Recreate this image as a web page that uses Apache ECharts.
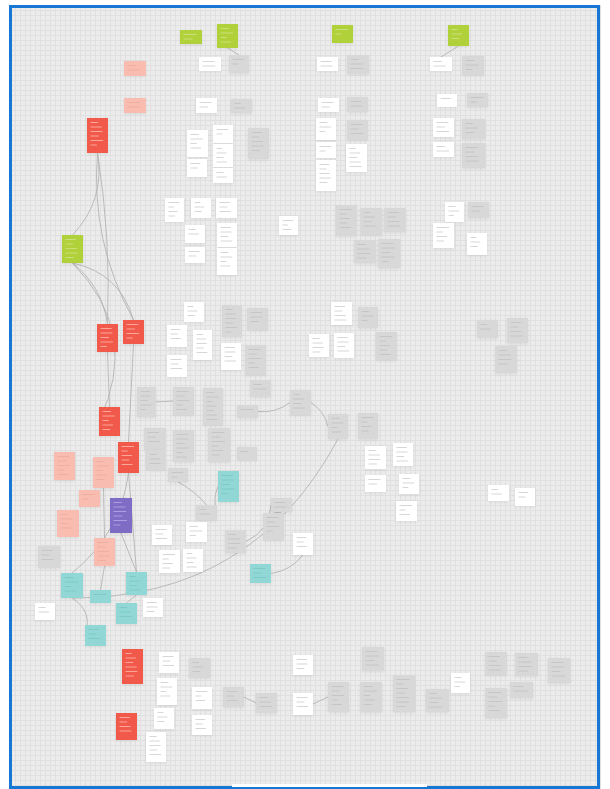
<!DOCTYPE html>
<html><head><meta charset="utf-8">
<script src="https://cdn.jsdelivr.net/npm/echarts@6/dist/echarts.min.js"></script>
<style>html,body{margin:0;padding:0;background:#fff}#c{width:610px;height:789px}</style>
</head><body><div id="c"></div>
<script>
// Sticky notes: id, left, top, width, height (board units), kind
const noteIds = ['g1','g2','g3','g4','g5',
 'p1','p2','p3','p4','p5','p6','p7',
 'r1','r2','r3','r4','r5','r6','r7',
 'u1',
 't1','t2','t3','t4','t5','t6','t7',
 'w1','w2','w3','w4','w5','w6','w7','w8','w9','w10','w11','w12','w13','w14','w15','w16','w17','w18','w19','w20',
 'w21','w22','w23','w24','w25','w26','w27','w28','w29','w30','w31','w32','w33','w34','w35','w36','w37','w38','w39','w40',
 'w41','w42','w43','w44','w45','w46','w47','w48','w49','w50','w51','w52','w53','w54','w55','w56','w57','w58','w59',
 'k1','k2','k3','k4','k5','k6','k7','k8','k9','k10','k11','k12','k13','k14','k15','k16','k17','k18','k19','k20',
 'k21','k22','k23','k24','k25','k26','k27','k28','k29','k30','k31','k32','k33','k34','k35','k36','k37','k38','k39','k40',
 'k41','k42','k43','k44','k45','k46','k47','k48','k49','k50','k51','k52','k53','k54','k55','k56'];
const noteX = [180,217,332,448,62,
 124,124,54,93,79,57,94,
 87,97,123,99,118,122,116,
 110,
 218,250,61,90,126,85,116,
 199,196,187,213,213,187,213,317,318,316,316,346,316,430,437,433,433,165,191,216,
 185,217,185,217,279,184,167,193,221,167,445,433,467,331,309,334,152,186,159,183,
 293,365,393,365,399,396,488,515,35,143,159,157,192,154,192,146,293,293,451,
 229,231,248,347,347,347,462,467,462,462,222,247,245,250,336,360,384,354,378,468,
 358,376,477,507,495,137,173,203,237,290,144,146,173,208,237,168,196,38,225,271,
 263,328,358,189,223,256,362,328,360,393,426,485,515,548,485,510];
const noteY = [30,24,25,25,235,
 61,98,452,457,490,510,538,
 118,324,320,407,442,649,713,
 498,
 471,564,573,590,572,625,603,
 57,98,130,125,144,159,168,57,98,118,142,144,160,57,94,118,142,198,198,198,
 225,223,247,248,216,302,325,330,343,355,202,223,233,302,334,333,525,522,550,549,
 533,446,443,475,474,501,485,488,603,598,652,678,687,708,715,732,655,693,673,
 55,99,128,55,97,120,56,93,119,143,305,308,345,380,205,208,208,240,239,202,
 307,332,320,318,346,387,387,388,405,390,428,450,430,428,447,468,505,546,530,498,
 513,414,413,658,687,693,647,682,682,675,689,652,653,658,688,682];
const noteW = [22,21,21,21,21,
 22,22,21,21,21,22,21,
 21,21,21,21,21,21,21,
 22,
 21,21,22,21,21,21,21,
 22,21,21,20,20,20,20,21,21,20,20,21,20,22,20,21,21,19,20,21,
 20,20,20,20,19,20,20,19,20,20,19,21,20,21,20,20,20,21,21,20,
 20,21,20,21,20,21,21,20,20,20,20,20,20,20,20,20,20,20,19,
 20,21,21,22,21,21,22,21,23,23,20,21,21,21,21,22,22,22,22,21,
 20,21,21,21,22,19,21,20,21,21,22,20,21,22,20,20,21,22,21,21,
 21,20,20,21,21,21,22,21,22,22,23,22,23,22,22,23];
const noteH = [14,24,18,21,28,
 15,15,28,31,17,27,28,
 35,28,24,29,31,35,27,
 35,
 31,19,25,13,23,21,21,
 14,15,27,18,23,18,15,14,14,22,16,28,31,14,13,19,15,24,20,20,
 18,24,16,27,19,20,22,30,27,22,20,25,22,23,23,25,20,20,23,23,
 22,23,23,17,20,20,16,18,17,19,21,27,22,21,20,30,20,22,20,
 18,14,31,19,15,20,19,14,20,25,32,22,30,17,31,27,24,23,29,16,
 21,28,18,25,27,30,28,37,13,25,22,20,32,34,13,14,15,22,23,14,
 27,25,26,20,20,20,24,30,30,37,23,23,23,25,30,16];
const noteKind = ['green','green','green','green','green',
 'pink','pink','pink','pink','pink','pink','pink',
 'red','red','red','red','red','red','red',
 'purple',
 'teal','teal','teal','teal','teal','teal','teal'];
// remaining notes: white (w*) and gray (k*) follow from their ids

// Connectors: from note, to note, leaving side, arriving side, curveness
const linkFrom = ['r1','r1','r1','g5','g5','g5','r2','r3','r5','r5','p7','t3','u1','k36','k39','k40','w41','k29','k30','k26','k45','w58','g2','g4','t5','t3','p4','k37'];
const linkTo   = ['g5','r2','r3','r2','r3','r4','r4','r5','t3','t5','t4','t6','t5','k37','k40','k41','t2','k30','k42','k27','k46','k48','k1','w14','t7','k42','p7','t1'];
const linkOut  = ['b','b','b','b','b','b','b','b','b','b','b','b','b','b','r','b','b','r','r','r','r','r','b','b','b','b','b','r'];
const linkIn   = ['t','t','t','t','t','l','t','t','t','t','t','l','t','t','l','t','r','l','l','l','l','l','t','t','t','b','t','l'];
const linkCurve= [0.25,0.05,-0.15,0.2,0.3,0.35,0,0,0.2,0,0,0.4,0,0.1,-0.3,0,0.2,-0.2,0.2,0,0,0,0,0,0,-0.3,0,0.2];

const fills = {green:'#b1d13b',pink:'#f8bdb0',red:'#f1594a',purple:'#7f6cc5',teal:'#90d7d5',white:'#ffffff',gray:'#d8d8d8'};
const inks  = {green:'#cfe48c',pink:'#eea99b',red:'#ffb9b0',purple:'#b6abe8',teal:'#78c6c4',white:'#cdcdcd',gray:'#c2c2c2'};
const pattern = [0.85,0.6,0.9,0.45,0.75,0.55,0.8];

function kindOf(i){
  if (i < noteKind.length) return noteKind[i];
  return noteIds[i][0] === 'w' ? 'white' : 'gray';
}
const idx = {};
noteIds.forEach((id,i)=>idx[id]=i);

const noteData = noteIds.map((id,i)=>({name:id, value:[noteX[i],noteY[i],noteW[i],noteH[i],i]}));

function anchor(id, side){
  const i = idx[id];
  const x=noteX[i], y=noteY[i], w=noteW[i], h=noteH[i];
  if (side==='t') return [x+w/2, y];
  if (side==='b') return [x+w/2, y+h];
  if (side==='l') return [x, y+h/2];
  return [x+w, y+h/2];
}
const linkData = linkFrom.map((f,j)=>({
  coords:[anchor(f,linkOut[j]), anchor(linkTo[j],linkIn[j])],
  lineStyle:{curveness:linkCurve[j]}
}));

const chart = echarts.init(document.getElementById('c'), null, {renderer:'canvas'});
chart.setOption({
  animation:false,
  backgroundColor:'#ffffff',
  grid:{left:10,right:10,top:5,bottom:0,show:true,backgroundColor:'#ececec',borderWidth:0},
  xAxis:{type:'value',min:10,max:600,interval:5,axisLine:{show:false},axisTick:{show:false},axisLabel:{show:false},
    splitLine:{show:true,lineStyle:{color:'#e0e0e0',width:1}}},
  yAxis:{type:'value',min:5,max:789,interval:5,inverse:true,axisLine:{show:false},axisTick:{show:false},axisLabel:{show:false},
    splitLine:{show:true,lineStyle:{color:'#e0e0e0',width:1}}},
  graphic:[
    {type:'rect',z:100,shape:{x:10.5,y:6.5,width:588,height:781},style:{fill:'none',stroke:'#1677d5',lineWidth:3}},
    {type:'rect',z:101,shape:{x:232,y:784,width:195,height:3},style:{fill:'#ffffff'}}
  ],
  series:[
    {type:'lines',coordinateSystem:'cartesian2d',z:2,silent:true,
     lineStyle:{color:'#b5b5b5',width:1,opacity:0.9},data:linkData},
    {type:'custom',coordinateSystem:'cartesian2d',z:3,silent:true,data:noteData,
     renderItem:function(params, api){
       const i = api.value(4);
       const k = kindOf(i);
       const p = api.coord([api.value(0), api.value(1)]);
       const s = api.size([api.value(2), api.value(3)]);
       const ch = [{type:'rect',shape:{x:p[0],y:p[1],width:s[0],height:s[1]},
         style:{fill:fills[k],shadowBlur:3,shadowColor:'rgba(0,0,0,0.08)',shadowOffsetY:1}}];
       const n = Math.max(1, Math.floor((s[1]-5)/4.5));
       for (let j=0;j<n;j++){
         const yy = p[1]+4.5+j*4.5;
         const len = (s[0]-7)*pattern[(i+j)%pattern.length];
         ch.push({type:'line',shape:{x1:p[0]+3.5,y1:yy,x2:p[0]+3.5+len,y2:yy},
           style:{stroke:inks[k],lineWidth:0.8}});
       }
       return {type:'group',children:ch};
     }}
  ]
});
</script></body></html>
